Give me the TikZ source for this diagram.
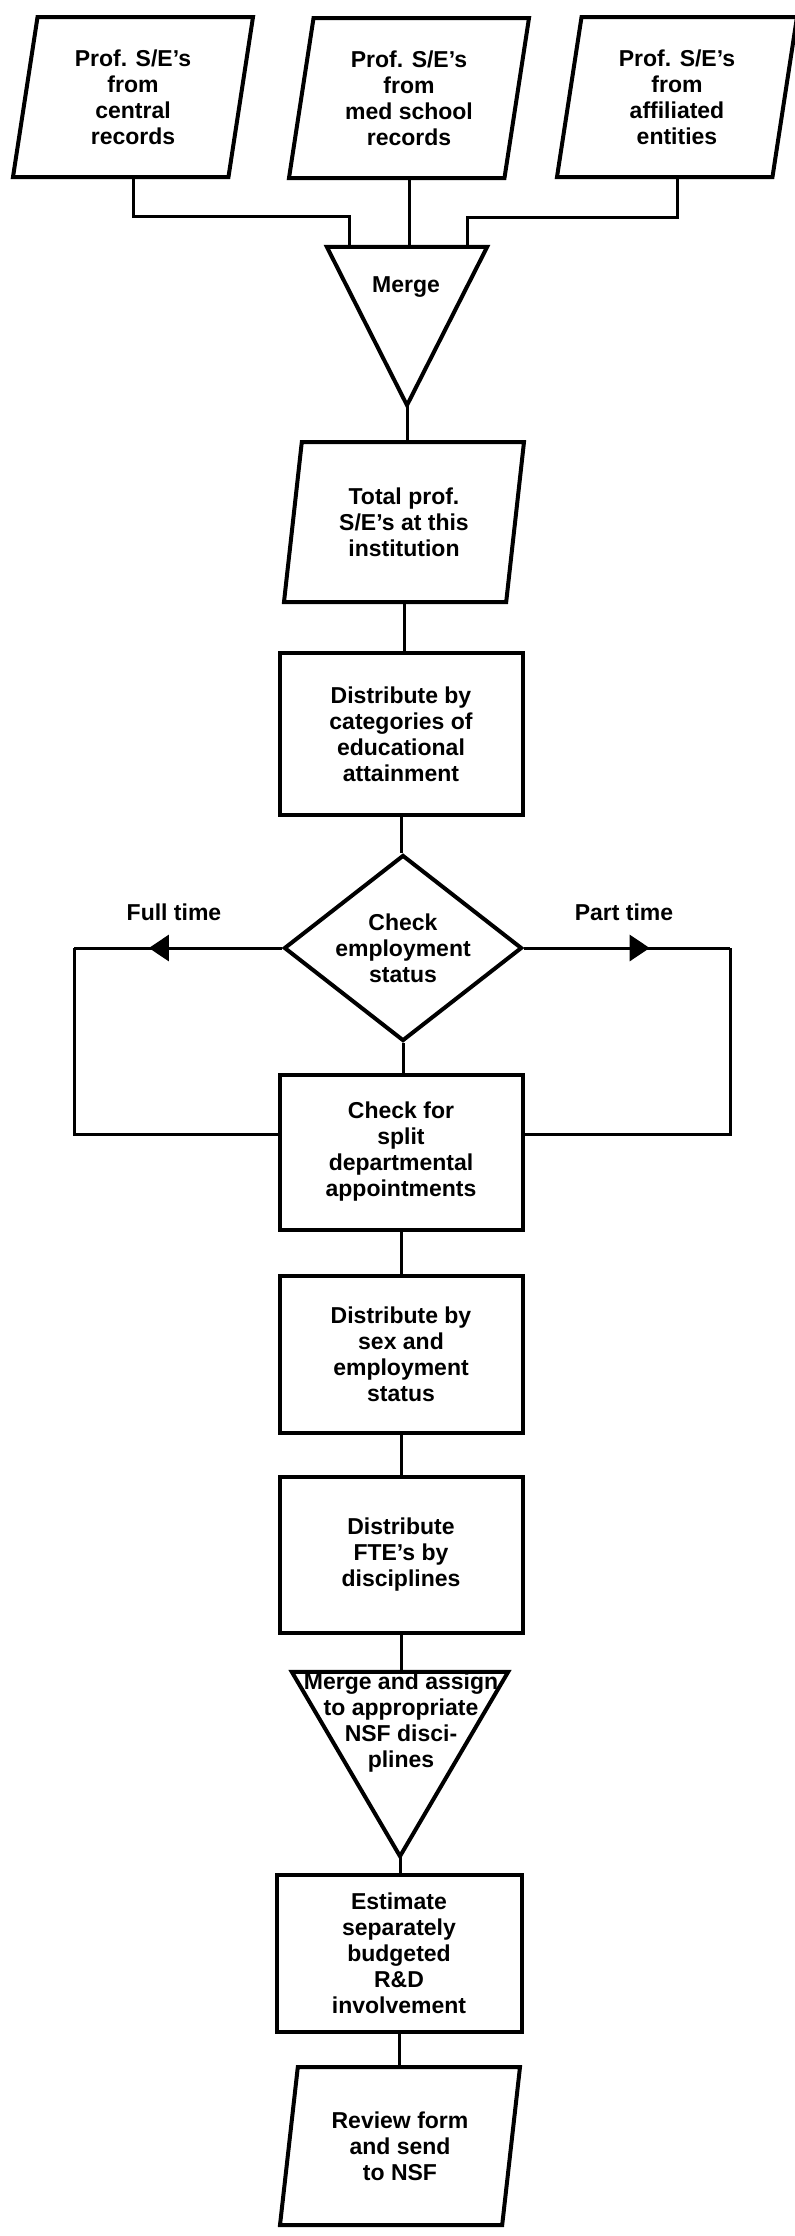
\documentclass[tikz,border=0pt]{standalone}
\usepackage{fontspec}
\setmainfont{Liberation Sans}
\usetikzlibrary{shapes.geometric,arrows.meta,decorations.markings}

\begin{document}
\begin{tikzpicture}[x=1pt,y=-1pt,
  every node/.style={font=\bfseries\fontsize{23}{26}\selectfont,align=center,inner sep=0pt},
  line/.style={line width=3pt},
  outline/.style={line width=4pt},
  box/.style={draw,outline,minimum width=243pt,minimum height=157pt},
  para/.style={draw,outline,trapezium,trapezium left angle=75.5,trapezium right angle=104.5,
    trapezium stretches body,minimum width=240pt,minimum height=160pt},
  trifr/.style={minimum width=#1},
  midarrow/.style={postaction={decorate},decoration={markings,
    mark=at position #1 with {\arrow{Triangle[length=20pt,width=26pt]}}}}]
\useasboundingbox (0,0) rectangle (795,2236);

\node[para] (cen) at (133,97) {Prof. S/E's\\from\\central\\records};
\node[para] (med) at (409,98) {Prof. S/E's\\from\\med school\\records};
\node[para] (aff) at (677,97) {Prof. S/E's\\from\\affiliated\\entities};

\node[trifr=160pt,minimum height=158pt] (merge) at (407,326) {};
\draw[outline] (merge.north west) -- (merge.north east) -- (merge.south) -- cycle;
\node (mergelbl) at (406,287) {Merge};

\node[para] (total) at (404,522) {Total prof.\\S/E's at this\\institution};
\node[box,minimum height=162pt] (educ) at (401,734) {Distribute by\\categories of\\educational\\attainment};
\node[draw,outline,diamond,aspect=1.28,minimum width=238pt,minimum height=186pt] (chk) at (403,948)
  {Check\\employment\\status};
\node[box,minimum height=155pt] (split) at (401,1152) {Check for\\split\\departmental\\appointments};
\node[box] (sex) at (401,1354) {Distribute by\\sex and\\employment\\status};
\node[box,minimum height=156pt] (fte) at (401,1555) {Distribute\\FTE's by\\disciplines};

\node[trifr=216pt,minimum height=184pt] (nsf) at (400,1764) {};
\draw[outline] (nsf.north west) -- (nsf.north east) -- (nsf.south) -- cycle;
\node (nsflbl) at (401,1723) {Merge and assign\\to appropriate\\NSF disci-\\plines};

\node[box,minimum width=245pt] (est) at (399,1953) {Estimate\\separately\\budgeted\\R\&D\\involvement};
\node[para,minimum height=158pt] (rev) at (400,2146) {Review form\\and send\\to NSF};

\draw[line] (cen.south) -- ++(0,37) -| ([xshift=-58pt]merge.north);
\draw[line] (med.south) -- (med.south |- merge.north);
\draw[line] (aff.south) -- ++(0,38) -| ([xshift=60pt]merge.north);

\foreach \a/\b in {merge/total,total/educ,educ/chk,chk/split,split/sex,sex/fte,fte/nsf,nsf/est,est/rev}
  \draw[line] (\a.south) -- (\a.south |- \b.north);

\coordinate (ft) at (74,948);
\coordinate (pt) at (730,948);
\draw[line,midarrow=0.64] (chk.west) -- (ft);
\draw[line] (ft) |- ([yshift=17.5pt]split.west);
\draw[line,midarrow=0.61] (chk.east) -- (pt);
\draw[line] (pt) |- ([yshift=17.5pt]split.east);
\node (fulltime) at (174,912) {Full time};
\node (parttime) at (624,912) {Part time};

\end{tikzpicture}
\end{document}
